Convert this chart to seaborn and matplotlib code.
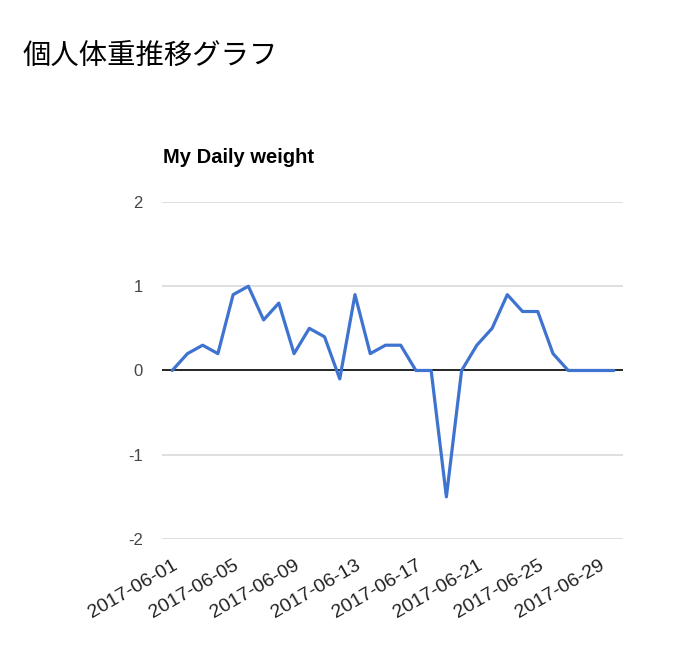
import numpy as np
import pandas as pd
import matplotlib
matplotlib.use("Agg")
import matplotlib.pyplot as plt
import matplotlib.dates as mdates
import seaborn as sns

dates = pd.date_range("2017-06-01", "2017-06-30", freq="D")
weight_diff = [0, 0.2, 0.3, 0.2, 0.9, 1.0, 0.6, 0.8, 0.2, 0.5,
               0.4, -0.1, 0.9, 0.2, 0.3, 0.3, 0, 0, -1.5, 0,
               0.3, 0.5, 0.9, 0.7, 0.7, 0.2, 0, 0, 0, 0]
y_ticks = [-2, -1, 0, 1, 2]

df = pd.DataFrame({"date": dates, "weight": weight_diff})

sns.set_theme(style="white")
plt.rcParams["font.family"] = ["Liberation Sans", "Noto Sans CJK JP", "DejaVu Sans"]

fig = plt.figure(figsize=(6.9, 6.49), dpi=100)
ax = fig.add_axes([0.235, 0.1695, 0.668, 0.5193])

sns.lineplot(data=df, x="date", y="weight", ax=ax, color="#3f73d0", linewidth=2.3)

ax.set_ylim(-2, 2)
ax.set_xlim(dates[0] - pd.Timedelta(days=0.66), dates[-1] + pd.Timedelta(days=0.6))
ax.set_yticks(y_ticks)
ax.set_yticklabels([str(v) for v in y_ticks], fontsize=12, color="#444444")
for v in y_ticks:
    if v == 0:
        ax.axhline(v, color="black", lw=1.2, zorder=1)
    else:
        ax.axhline(v, color="#d9d9d9", lw=1.2, zorder=0)

ax.xaxis.set_major_locator(mdates.DayLocator(bymonthday=[1, 5, 9, 13, 17, 21, 25, 29]))
ax.xaxis.set_major_formatter(mdates.DateFormatter("%Y-%m-%d"))
plt.setp(ax.get_xticklabels(), rotation=30, ha="right", rotation_mode="anchor",
         fontsize=14, color="#222222")
ax.tick_params(axis="y", length=0, pad=14)
ax.tick_params(axis="x", length=0, pad=13)
ax.set_xlabel("")
ax.set_ylabel("")
for s in ax.spines.values():
    s.set_visible(False)

fig.text(0.236, 0.757, "My Daily weight", fontsize=14.5, fontweight="bold", color="black",
         va="center", ha="left")
fig.text(0.032, 0.914, "個人体重推移グラフ", fontsize=20.4, color="black", va="center", ha="left",
         family=["Noto Sans CJK JP", "DejaVu Sans"])

fig.savefig("out.png", dpi=100)
